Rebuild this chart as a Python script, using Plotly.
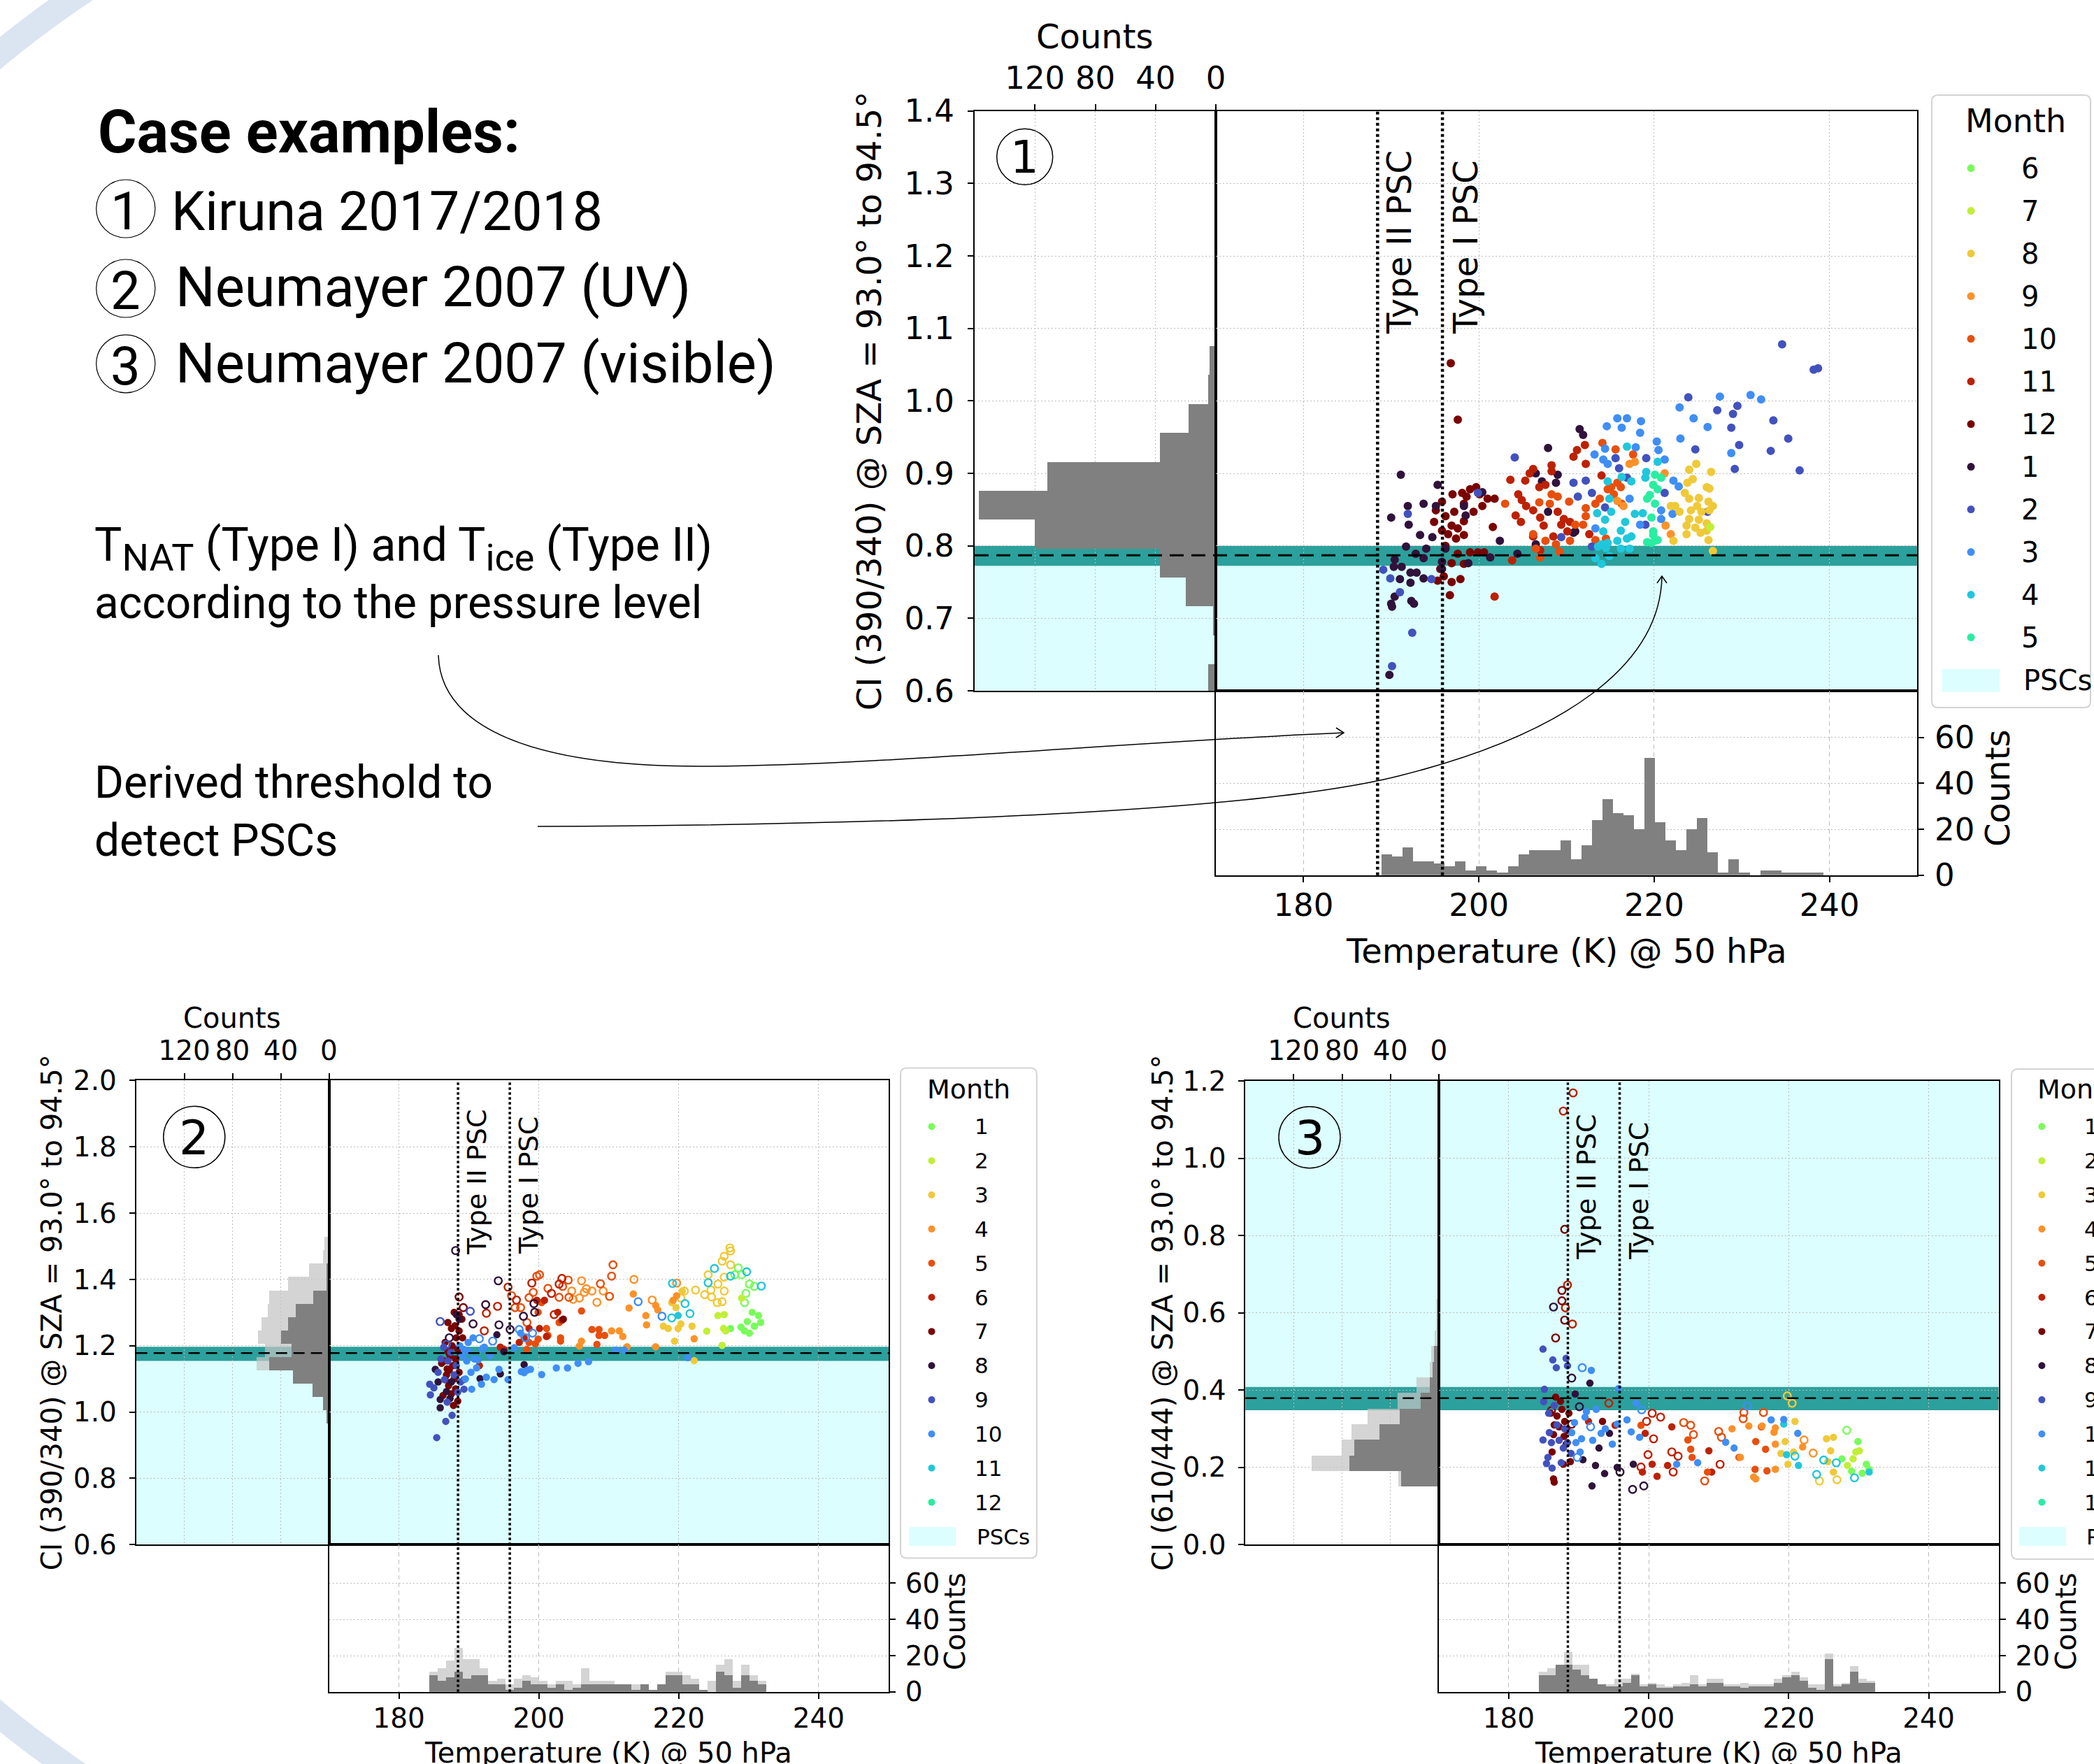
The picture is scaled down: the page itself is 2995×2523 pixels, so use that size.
import numpy as np
import plotly.graph_objects as go
from plotly.colors import sample_colorscale

W, H = 2995, 2523
DV = "DejaVu Sans"
RB = "Roboto"

# ------------------------------------------------------------------ data
MONTH_COLORS = sample_colorscale("Turbo", [i / 11 for i in range(12)])

# thresholds / PSC temperatures
P1_THR, P1_BAND = 0.787, (0.7725, 0.800)
P2_THR, P2_BAND = 1.178, (1.154, 1.197)
P3_THR, P3_BAND = 0.379, (0.348, 0.408)
T_ICE, T_NAT = 188.45, 195.85

# ---- Panel 1: Kiruna 2017/2018 (CI 390/340)
P1_CI_BIN_START, P1_CI_BIN_W = 0.597, 0.0399
P1_CI_COUNTS = [5, 0, 2, 20, 37, 120, 157, 112, 37, 18, 5, 4, 1]
P1_T_BIN_START, P1_T_BIN_W = 188.9, 1.2
P1_T_COUNTS = [9, 8, 12, 6, 6, 5, 4, 6, 2, 4, 2, 1, 4, 9, 11, 11, 11, 15, 7, 13, 24,
               33, 27, 26, 20, 51, 23, 15, 11, 20, 25, 10, 1, 7, 1, 0, 2, 2, 1, 1, 1, 1]

P1_M01 = [(191.1, 0.898), (190.0, 0.839), (195.3, 0.884), (191.9, 0.855), (193.7, 0.858), (192.0, 0.829),
          (193.3, 0.815), (194.7, 0.812), (191.7, 0.799), (194.0, 0.796), (192.8, 0.789), (193.7, 0.783),
          (190.4, 0.781), (190.3, 0.771), (191.2, 0.771), (192.2, 0.763), (192.9, 0.763), (191.0, 0.754),
          (192.2, 0.749), (190.4, 0.730), (190.0, 0.720), (192.6, 0.720), (195.8, 0.778), (196.2, 0.796),
          (195.1, 0.855), (198.3, 0.855), (198.5, 0.842), (200.4, 0.874), (202.4, 0.807), (201.3, 0.784),
          (204.4, 0.789), (207.9, 0.935), (206.5, 0.900), (207.2, 0.889), (209.0, 0.898), (208.8, 0.887),
          (207.9, 0.847), (211.5, 0.961), (211.9, 0.953), (211.0, 0.820), (210.8, 0.818), (206.5, 0.802),
          (198.8, 0.776), (195.8, 0.768), (193.7, 0.755), (189.8, 0.622), (190.1, 0.716), (192.3, 0.724)]
P1_M02 = [(192.4, 0.680), (190.1, 0.634), (191.9, 0.844), (191.0, 0.736), (189.9, 0.755), (189.1, 0.767),
          (194.6, 0.754), (199.9, 0.873), (204.1, 0.922), (210.8, 0.887), (211.3, 0.868), (212.2, 0.890),
          (212.9, 0.873), (209.4, 0.812), (214.4, 0.853), (216.0, 0.907), (215.6, 0.921), (219.1, 0.921),
          (216.9, 0.894), (221.2, 0.873), (219.0, 0.829), (226.1, 0.847), (223.9, 1.005), (227.2, 0.987),
          (229.0, 0.982), (229.5, 0.993), (228.8, 0.963), (224.7, 0.933), (229.7, 0.939), (229.2, 0.906),
          (233.6, 0.973), (233.3, 0.931), (235.3, 0.948), (236.6, 0.904), (234.6, 1.078), (238.2, 1.043),
          (238.7, 1.045), (212.9, 0.799)]
P1_M03 = [(222.9, 0.991), (227.5, 1.006), (231.0, 1.008), (232.2, 1.002), (224.5, 0.976), (226.1, 0.964),
          (223.0, 0.948), (228.8, 0.928), (215.8, 0.976), (216.9, 0.976), (214.6, 0.965), (216.3, 0.963),
          (218.5, 0.972), (218.4, 0.956), (220.3, 0.944), (220.5, 0.932), (221.2, 0.919), (217.9, 0.936),
          (213.2, 0.926), (214.4, 0.934), (214.2, 0.919), (214.7, 0.913), (222.2, 0.890), (222.8, 0.882),
          (220.8, 0.849), (220.8, 0.837), (218.4, 0.829), (213.3, 0.824), (217.2, 0.865), (222.1, 0.844)]
P1_M04 = [(216.9, 0.937), (214.7, 0.889), (214.9, 0.865), (216.3, 0.895), (217.4, 0.889), (213.5, 0.845),
          (215.1, 0.847), (214.4, 0.836), (217.8, 0.844), (216.7, 0.833), (218.7, 0.845), (214.2, 0.820),
          (216.2, 0.821), (217.4, 0.813), (214.7, 0.804), (215.8, 0.807), (216.9, 0.810), (214.0, 0.802),
          (213.6, 0.799), (214.5, 0.797), (216.2, 0.796), (217.2, 0.796), (213.3, 0.783), (214.9, 0.786),
          (214.0, 0.775), (219.1, 0.902), (220.4, 0.916), (219.0, 0.894)]
P1_M05 = [(220.1, 0.898), (219.9, 0.884), (219.5, 0.870), (220.4, 0.878), (219.2, 0.865), (220.1, 0.858),
          (219.7, 0.839), (219.9, 0.820), (220.1, 0.807), (219.7, 0.804), (219.2, 0.805), (220.4, 0.808),
          (219.9, 0.815), (220.8, 0.894)]
P1_M07 = [(226.4, 0.826)]
P1_M08 = [(224.8, 0.913), (224.0, 0.905), (226.5, 0.902), (223.8, 0.887), (224.4, 0.892), (226.0, 0.881),
          (226.3, 0.879), (223.5, 0.873), (224.0, 0.865), (225.1, 0.866), (226.2, 0.861), (226.7, 0.855),
          (224.9, 0.855), (224.2, 0.849), (225.4, 0.847), (226.3, 0.849), (224.0, 0.837), (225.1, 0.836),
          (226.0, 0.831), (223.7, 0.828), (224.7, 0.825), (226.0, 0.821), (223.7, 0.816), (225.3, 0.818),
          (226.2, 0.808), (222.2, 0.807), (222.4, 0.855), (226.7, 0.793), (221.9, 0.855), (222.9, 0.847)]
P1_M09 = [(217.2, 0.913), (217.8, 0.916), (221.2, 0.900), (221.3, 0.828), (221.9, 0.816), (215.8, 0.862),
          (216.5, 0.855)]
P1_M10 = [(214.1, 0.942), (215.6, 0.933), (217.6, 0.926), (215.1, 0.881), (215.8, 0.887), (216.2, 0.881),
          (215.4, 0.871), (214.7, 0.878), (213.3, 0.858), (213.8, 0.865), (212.2, 0.852), (210.3, 0.861),
          (209.0, 0.868), (208.3, 0.871), (208.1, 0.858), (206.9, 0.860), (206.2, 0.816), (206.5, 0.796),
          (207.0, 0.784), (207.6, 0.807), (208.8, 0.802), (209.2, 0.792), (210.4, 0.807), (213.3, 0.808),
          (211.0, 0.829), (211.9, 0.829), (212.2, 0.841), (214.5, 0.810), (203.0, 0.858), (216.3, 0.858)]
P1_M11 = [(203.6, 0.891), (205.3, 0.890), (204.5, 0.871), (204.9, 0.863), (205.4, 0.855), (204.2, 0.842),
          (204.8, 0.833), (206.2, 0.849), (207.0, 0.839), (207.4, 0.828), (206.2, 0.906), (205.8, 0.900),
          (206.9, 0.881), (207.6, 0.884), (208.3, 0.911), (208.3, 0.903), (209.0, 0.847), (209.7, 0.837),
          (210.4, 0.833), (210.1, 0.820), (211.2, 0.932), (212.1, 0.939), (210.8, 0.923), (212.2, 0.913),
          (214.0, 0.897), (209.4, 0.829), (208.5, 0.813), (203.8, 0.780), (207.0, 0.794), (206.2, 0.813),
          (212.6, 0.816), (201.8, 0.730)]
P1_M12 = [(196.8, 1.052), (197.6, 0.974), (195.8, 0.861), (197.0, 0.871), (198.1, 0.873), (199.0, 0.878),
          (199.7, 0.881), (198.3, 0.858), (197.2, 0.847), (196.2, 0.841), (194.9, 0.833), (195.8, 0.821),
          (196.9, 0.828), (198.3, 0.834), (199.4, 0.847), (200.4, 0.855), (201.0, 0.865), (201.8, 0.865),
          (196.5, 0.816), (197.4, 0.810), (198.3, 0.815), (196.2, 0.800), (197.6, 0.789), (199.0, 0.791),
          (196.9, 0.776), (196.0, 0.758), (196.9, 0.750), (196.7, 0.732), (195.3, 0.752), (197.9, 0.754),
          (199.9, 0.791), (200.6, 0.791), (201.6, 0.826), (198.3, 0.775), (195.1, 0.849), (198.6, 0.868),
          (200.1, 0.871), (195.6, 0.768), (197.6, 0.824)]
P1_SERIES = [(12, P1_M12), (1, P1_M01), (11, P1_M11), (10, P1_M10), (2, P1_M02), (9, P1_M09),
             (3, P1_M03), (4, P1_M04), (5, P1_M05), (8, P1_M08), (7, P1_M07)]
P1_LEGEND_MONTHS = [6, 7, 8, 9, 10, 11, 12, 1, 2, 3, 4, 5]

# ---- Panel 2: Neumayer 2007 UV (CI 390/340)
P2_CI_BIN_START, P2_CI_BIN_W = 0.924, 0.0402
P2_CI_ALL = [1, 2, 5, 14, 30, 60, 53, 59, 56, 51, 50, 34, 17, 5, 4]
P2_CI_SUB = [1, 2, 5, 14, 30, 50, 31, 40, 34, 28, 13, 2, 2, 0, 0]
P2_T_BIN_START, P2_T_BIN_W = 184.3, 1.205
P2_T_ALL = [11, 13, 17, 24, 18, 18, 13, 6, 7, 4, 7, 9, 8, 6, 4, 6, 6, 4, 13, 6,
            6, 6, 4, 4, 4, 4, 1, 4, 11, 11, 9, 7, 1, 6, 15, 18, 6, 15, 9, 6]
P2_T_SUB = [9, 6, 8, 11, 7, 9, 9, 4, 4, 1, 2, 6, 4, 4, 2, 4, 1, 2, 4, 4,
            4, 4, 4, 4, 1, 4, 1, 4, 9, 9, 4, 4, 1, 0, 11, 9, 2, 9, 6, 4]

P2_M01_F = [(230.5, 1.301), (231.4, 1.291), (231.7, 1.270), (230.8, 1.259), (229.8, 1.273), (228.9, 1.256),
            (230.1, 1.238), (229.4, 1.245), (227.4, 1.252)]
P2_M01_O = [(228.5, 1.435), (228.0, 1.414), (229.0, 1.414), (230.1, 1.386), (230.8, 1.379), (229.6, 1.358),
            (229.4, 1.330)]
P2_M02_F = [(229.0, 1.344), (225.6, 1.291), (226.5, 1.294), (226.4, 1.252), (226.7, 1.245), (224.0, 1.244),
            (226.2, 1.201)]
P2_M03_F = [(220.3, 1.266), (219.9, 1.252), (221.9, 1.259), (219.4, 1.214), (222.2, 1.155), (218.5, 1.252),
            (217.8, 1.259), (219.6, 1.315), (220.5, 1.365), (219.0, 1.330)]
P2_M03_O = [(227.3, 1.495), (227.4, 1.486), (226.5, 1.470), (226.2, 1.455), (227.4, 1.444), (224.2, 1.414),
            (226.5, 1.407), (225.6, 1.386), (224.6, 1.368), (223.7, 1.354), (222.4, 1.368), (220.8, 1.365),
            (220.3, 1.344), (225.5, 1.330), (226.2, 1.333), (224.7, 1.347), (226.5, 1.365)]
P2_M04_F = [(213.5, 1.356), (212.9, 1.314), (215.3, 1.291), (215.4, 1.263), (216.7, 1.322), (217.0, 1.308),
            (219.2, 1.337), (219.7, 1.351), (222.2, 1.221), (216.7, 1.197), (206.1, 1.214), (205.8, 1.199),
            (210.4, 1.245), (211.5, 1.245), (212.0, 1.228), (212.6, 1.197)]
P2_M04_O = [(206.1, 1.396), (206.8, 1.372), (206.5, 1.361), (207.6, 1.365), (205.8, 1.344), (204.9, 1.340),
            (204.7, 1.365), (209.2, 1.365), (208.3, 1.331), (213.6, 1.400), (216.2, 1.338), (219.7, 1.389)]
P2_M05_F = [(200.4, 1.330), (199.9, 1.301), (202.9, 1.270), (201.1, 1.252), (201.3, 1.231), (199.9, 1.220),
            (199.5, 1.206), (198.6, 1.210), (198.3, 1.189), (206.1, 1.305), (207.6, 1.249), (208.6, 1.249),
            (208.6, 1.231), (209.4, 1.231), (208.3, 1.204), (203.1, 1.224), (203.1, 1.214)]
P2_M05_O = [(210.6, 1.444), (210.4, 1.410), (208.8, 1.387), (210.1, 1.349), (204.3, 1.346), (202.9, 1.346),
            (203.4, 1.379), (204.2, 1.398), (201.3, 1.373), (199.7, 1.410), (200.1, 1.414), (198.6, 1.345),
            (199.2, 1.361), (196.6, 1.315), (197.4, 1.315), (198.3, 1.270), (196.1, 1.351)]
P2_M06_F = [(199.7, 1.337), (200.8, 1.337), (202.7, 1.301), (203.3, 1.277), (201.1, 1.228), (200.1, 1.252),
            (198.6, 1.252), (197.9, 1.224), (197.2, 1.210), (194.5, 1.196), (195.0, 1.189), (191.5, 1.140)]
P2_M06_O = [(195.6, 1.377), (199.0, 1.389), (201.8, 1.358), (202.9, 1.386), (203.3, 1.403), (192.5, 1.298),
            (194.1, 1.319), (192.2, 1.245), (202.2, 1.294), (196.8, 1.338)]
P2_M07_F = [(187.9, 1.301), (188.6, 1.294), (189.0, 1.280), (187.5, 1.252), (188.6, 1.245), (188.2, 1.224),
            (189.1, 1.224), (187.0, 1.182), (186.5, 1.154), (187.2, 1.126), (186.6, 1.098), (187.5, 1.055),
            (188.4, 1.033), (187.7, 1.140), (188.8, 1.175), (186.1, 1.147), (186.8, 1.112), (203.5, 1.280),
            (187.0, 1.270), (188.0, 1.260), (186.6, 1.210), (187.6, 1.200), (188.4, 1.190), (187.3, 1.170),
            (188.1, 1.160), (186.9, 1.130), (187.9, 1.100), (188.6, 1.120), (187.1, 1.080), (188.1, 1.070),
            (186.3, 1.050), (187.8, 1.020)]
P2_M07_O = [(188.6, 1.347), (189.2, 1.315)]
P2_M08_F = [(185.2, 1.129), (185.9, 1.038), (185.9, 1.013), (187.3, 1.041), (191.6, 1.101), (194.5, 1.115),
            (197.9, 1.143), (194.0, 1.233), (195.0, 1.182), (188.2, 1.294), (188.6, 1.280), (187.5, 1.091),
            (185.6, 1.091), (186.8, 1.062)]
P2_M08_O = [(188.1, 1.487), (194.2, 1.396), (192.4, 1.324), (190.6, 1.266), (194.3, 1.263), (197.8, 1.289),
            (199.3, 1.327), (199.4, 1.301), (195.9, 1.249), (187.2, 1.224)]
P2_M09_F = [(185.4, 0.923), (186.7, 0.972), (187.6, 0.990), (184.5, 1.052), (184.4, 1.084), (185.0, 1.073),
            (186.4, 1.196), (188.2, 1.140), (188.8, 1.091), (189.3, 1.098), (187.9, 1.112), (187.0, 1.154),
            (186.5, 1.098), (189.3, 1.069), (186.0, 1.160), (187.4, 1.180), (188.4, 1.060), (185.6, 1.120),
            (186.9, 1.030)]
P2_M09_O = [(185.9, 1.273), (190.2, 1.304), (186.8, 1.204)]
P2_M10_F = [(190.4, 1.069), (191.8, 1.084), (192.5, 1.105), (193.6, 1.098), (194.3, 1.129), (195.6, 1.098),
            (197.5, 1.122), (198.3, 1.126), (198.8, 1.129), (197.9, 1.119), (200.4, 1.113), (202.5, 1.133),
            (204.1, 1.133), (205.6, 1.147), (207.1, 1.152), (211.0, 1.187), (212.2, 1.187), (221.3, 1.164),
            (196.5, 1.194), (191.1, 1.133), (189.7, 1.154), (190.0, 1.182), (191.3, 1.157), (192.2, 1.196),
            (190.6, 1.224), (189.3, 1.189), (197.4, 1.238), (189.0, 1.170), (190.8, 1.160), (189.9, 1.210),
            (191.9, 1.190), (190.3, 1.120), (189.5, 1.100), (193.0, 1.170), (188.7, 1.200)]
P2_M10_O = [(197.2, 1.249), (198.1, 1.224), (199.1, 1.238), (191.5, 1.221), (193.4, 1.214), (214.2, 1.333),
            (217.6, 1.289)]
P2_M11_F = [(219.9, 1.291)]
P2_M11_O = [(219.1, 1.388), (220.9, 1.327), (221.6, 1.297), (219.0, 1.284), (225.1, 1.433), (224.2, 1.390),
            (227.4, 1.410), (229.7, 1.423), (231.8, 1.380)]
P2_SERIES = [(1, P2_M01_F, P2_M01_O), (2, P2_M02_F, []), (3, P2_M03_F, P2_M03_O), (4, P2_M04_F, P2_M04_O),
             (5, P2_M05_F, P2_M05_O), (6, P2_M06_F, P2_M06_O), (11, P2_M11_F, P2_M11_O),
             (7, P2_M07_F, P2_M07_O), (8, P2_M08_F, P2_M08_O), (9, P2_M09_F, P2_M09_O),
             (10, P2_M10_F, P2_M10_O)]

# ---- Panel 3: Neumayer 2007 visible (CI 610/444)
P3_CI_BIN_START, P3_CI_BIN_W = 0.150, 0.0404
P3_CI_ALL = [33, 105, 80, 72, 59, 34, 18, 7, 6, 3, 2, 2, 1, 1, 1, 1, 1]
P3_CI_SUB = [31, 74, 70, 49, 32, 15, 7, 5, 4, 0, 0, 0, 0, 0, 0, 0, 0]
P3_T_BIN_START, P3_T_BIN_W = 184.3, 1.2
P3_T_ALL = [11, 13, 15, 22, 15, 15, 7, 4, 4, 7, 7, 10, 4, 5, 4, 3, 4, 5, 9, 4,
            7, 7, 4, 4, 5, 4, 4, 4, 7, 9, 11, 8, 4, 4, 21, 4, 5, 14, 7, 6]
P3_T_SUB = [9, 9, 15, 15, 12, 9, 7, 4, 3, 3, 5, 9, 3, 4, 2, 2, 3, 3, 4, 3,
            5, 5, 3, 3, 2, 3, 3, 3, 5, 8, 9, 6, 2, 1, 18, 3, 4, 11, 5, 5]

P3_M01_F = [(229.9, 0.267), (231.1, 0.208), (231.5, 0.195), (227.6, 0.222), (230.5, 0.185), (229.0, 0.190)]
P3_M01_O = [(228.3, 0.296)]
P3_M02_F = [(229.6, 0.240), (230.1, 0.243), (229.2, 0.222), (228.4, 0.205)]
P3_M03_F = [(220.9, 0.319), (219.5, 0.267), (218.9, 0.236), (219.9, 0.208), (220.7, 0.240), (225.4, 0.274),
            (226.4, 0.278), (226.0, 0.243), (225.6, 0.215), (226.4, 0.188)]
P3_M03_O = [(219.8, 0.385), (220.5, 0.366), (224.4, 0.165), (226.9, 0.168)]
P3_M04_F = [(211.9, 0.300), (214.3, 0.307), (216.2, 0.307), (217.9, 0.291), (218.1, 0.302), (218.1, 0.260),
            (213.1, 0.226), (222.0, 0.253), (215.3, 0.170), (218.1, 0.195), (215.0, 0.175)]
P3_M04_O = [(222.2, 0.271), (223.5, 0.237)]
P3_M05_F = [(198.9, 0.309), (206.0, 0.247), (205.6, 0.271), (206.2, 0.226), (208.4, 0.188), (212.9, 0.226),
            (215.3, 0.267), (216.7, 0.247), (216.1, 0.305), (215.2, 0.195), (216.9, 0.191)]
P3_M05_O = [(205.0, 0.316), (206.0, 0.309), (206.4, 0.285), (210.0, 0.293), (210.4, 0.278), (213.6, 0.342),
            (213.5, 0.326), (216.4, 0.342), (208.0, 0.165)]
P3_M06_F = [(191.4, 0.319), (195.2, 0.309), (200.5, 0.208), (199.1, 0.188), (201.2, 0.177), (202.7, 0.205),
            (203.3, 0.305), (208.6, 0.243), (209.0, 0.188), (199.5, 0.288)]
P3_M06_O = [(189.2, 1.169), (187.8, 1.122), (188.4, 0.672), (188.1, 0.613), (189.1, 0.571), (194.3, 0.366),
            (200.5, 0.340), (201.7, 0.330), (199.7, 0.319), (200.7, 0.274), (199.9, 0.233), (203.3, 0.240),
            (204.2, 0.229), (210.2, 0.208), (198.9, 0.201), (203.5, 0.188)]
P3_M07_F = [(186.7, 0.382), (187.4, 0.371), (186.9, 0.333), (187.2, 0.305), (188.0, 0.319), (188.4, 0.295),
            (186.4, 0.285), (188.8, 0.215), (186.4, 0.170), (187.8, 0.208), (193.4, 0.319), (186.5, 0.162),
            (186.0, 0.340), (187.6, 0.350), (186.5, 0.310), (187.9, 0.280), (188.6, 0.340), (186.2, 0.240),
            (188.2, 0.260)]
P3_M07_O = [(188.0, 0.816), (187.6, 0.658), (187.6, 0.631), (188.0, 0.581), (186.7, 0.535), (186.1, 0.347),
            (189.0, 0.312)]
P3_M08_F = [(191.6, 0.418), (194.4, 0.288), (192.4, 0.205), (193.7, 0.184), (197.8, 0.208), (191.9, 0.152),
            (189.5, 0.390), (190.6, 0.220), (192.9, 0.250), (195.5, 0.200)]
P3_M08_O = [(186.4, 0.615), (189.0, 0.431), (190.1, 0.357), (195.9, 0.188), (197.7, 0.143), (199.3, 0.152)]
P3_M09_F = [(184.9, 0.506), (186.3, 0.478), (186.8, 0.458), (188.2, 0.482), (188.4, 0.463), (185.1, 0.402),
            (185.7, 0.340), (184.9, 0.271), (186.1, 0.264), (187.8, 0.250), (188.4, 0.264), (185.6, 0.226),
            (186.2, 0.198), (187.5, 0.212), (188.9, 0.236), (186.9, 0.310), (185.0, 0.370), (185.8, 0.290),
            (187.2, 0.270), (186.5, 0.360), (188.0, 0.300), (185.4, 0.210)]
P3_M10_F = [(191.8, 0.451), (195.7, 0.404), (198.2, 0.366), (192.5, 0.350), (191.1, 0.344), (196.9, 0.323),
            (195.5, 0.312), (217.5, 0.323), (219.3, 0.324), (221.3, 0.288), (211.0, 0.265), (212.2, 0.250),
            (207.0, 0.212), (204.0, 0.208), (189.4, 0.316), (190.4, 0.274), (189.6, 0.264), (198.7, 0.278),
            (197.5, 0.292), (193.2, 0.288), (189.0, 0.290), (190.9, 0.330), (192.0, 0.270), (193.8, 0.300),
            (190.2, 0.240), (194.8, 0.260)]
P3_M10_O = [(190.5, 0.458), (214.1, 0.359), (199.0, 0.349), (191.7, 0.305), (189.8, 0.226)]
P3_M11_F = [(219.3, 0.312), (219.7, 0.233), (221.4, 0.205), (231.5, 0.188)]
P3_M11_O = [(220.9, 0.229), (225.0, 0.219), (226.8, 0.212), (224.0, 0.182), (229.4, 0.173)]
P3_SERIES = [(6, P3_M06_F, P3_M06_O), (5, P3_M05_F, P3_M05_O), (4, P3_M04_F, P3_M04_O),
             (3, P3_M03_F, P3_M03_O), (2, P3_M02_F, []), (1, P3_M01_F, P3_M01_O), (11, P3_M11_F, P3_M11_O),
             (7, P3_M07_F, P3_M07_O), (8, P3_M08_F, P3_M08_O), (9, P3_M09_F, []), (10, P3_M10_F, P3_M10_O)]
NEUMAYER_LEGEND_MONTHS = list(range(1, 13))

CASE_LINES = ["Kiruna 2017/2018", "Neumayer 2007 (UV)", "Neumayer 2007 (visible)"]
Y_TITLE_UV = "CI (390/340) @ SZA = 93.0° to 94.5°"
Y_TITLE_VIS = "CI (610/444) @ SZA = 93.0° to 94.5°"
X_TITLE = "Temperature (K) @ 50 hPa"

# ------------------------------------------------------------------ helpers
def X(p):
    return p / W


def Y(p):
    return 1 - p / H


def P(x, y):
    return f"{X(x):.6f},{Y(y):.6f}"


LIGHTCYAN = "#dcfefe"
TEAL = "#2ca09c"
DARKGRAY = "#808080"
LIGHTGRAY = "rgba(196,196,196,0.72)"
GRID = "#bdbdbd"

fig = go.Figure()
shapes = []
annotations = []


def ann(text, x, y, size, family=DV, xanchor="center", yanchor="middle", angle=0, color="black"):
    annotations.append(dict(text=text, x=X(x), y=Y(y), xref="paper", yref="paper", showarrow=False,
                            xanchor=xanchor, yanchor=yanchor, textangle=angle,
                            font=dict(family=family, size=size, color=color)))


def centers(start, w, n):
    return [start + w * (i + 0.5) for i in range(n)]


# panel geometry (pixels)
PANELS = [
    dict(k=0, hl=1394, mid=1739, right=2742, top=158.7, bot=988.0, hbot=1251.7,
         ci=[0.6, 1.4], civals=[round(0.6 + 0.1 * i, 1) for i in range(9)], hmax=80.3,
         tfont=45, lw=2, psc="below", band=P1_BAND, thr=P1_THR),
    dict(k=1, hl=194.7, mid=470.5, right=1271.0, top=1545.4, bot=2209.3, hbot=2419.8,
         ci=[0.6, 2.0], civals=[round(0.6 + 0.2 * i, 1) for i in range(8)], hmax=81.3,
         tfont=39, lw=2, psc="below", band=P2_BAND, thr=P2_THR),
    dict(k=2, hl=1781.3, mid=2057.8, right=2858.6, top=1546.0, bot=2209.3, hbot=2419.8,
         ci=[0.0, 1.2], civals=[round(0.2 * i, 1) for i in range(7)], hmax=81.3,
         tfont=39, lw=2, psc="above", band=P3_BAND, thr=P3_THR),
]

layout_axes = {}
for g in PANELS:
    a, b, c = 3 * g["k"] + 1, 3 * g["k"] + 2, 3 * g["k"] + 3
    nm = lambda i: "" if i == 1 else str(i)
    base = dict(showline=True, linecolor="black", linewidth=g["lw"], mirror=True, zeroline=False,
                showgrid=True, gridcolor=GRID, gridwidth=1.3, griddash="2px,3px",
                tickfont=dict(family=DV, size=g["tfont"], color="black"),
                tickcolor="black", tickwidth=2, ticklen=8)
    layout_axes["xaxis" + nm(a)] = dict(base, domain=[X(g["hl"]), X(g["mid"])], range=[160, 0], side="top",
                                        tickvals=[0, 40, 80, 120], ticks="outside", anchor="y" + nm(a),
                                        ticklabelstandoff=4)
    layout_axes["yaxis" + nm(a)] = dict(base, domain=[Y(g["bot"]), Y(g["top"])], range=g["ci"],
                                        tickvals=g["civals"], tickformat=".1f", ticks="outside",
                                        anchor="x" + nm(a), ticklabelstandoff=10)
    layout_axes["xaxis" + nm(b)] = dict(base, domain=[X(g["mid"]), X(g["right"])], range=[170, 250],
                                        tickvals=[180, 200, 220, 240], showticklabels=False, ticks="",
                                        anchor="y" + nm(b))
    layout_axes["yaxis" + nm(b)] = dict(base, domain=[Y(g["bot"]), Y(g["top"])], range=g["ci"],
                                        tickvals=g["civals"], showticklabels=False, ticks="",
                                        anchor="x" + nm(b))
    layout_axes["xaxis" + nm(c)] = dict(base, domain=[X(g["mid"]), X(g["right"])], range=[170, 250],
                                        tickvals=[180, 200, 220, 240], ticks="outside", griddash="6px,5px",
                                        anchor="y" + nm(c), ticklabelstandoff=-6)
    layout_axes["yaxis" + nm(c)] = dict(base, domain=[Y(g["hbot"]), Y(g["bot"])], range=[0, g["hmax"]],
                                        tickvals=[0, 20, 40, 60], side="right", ticks="outside",
                                        anchor="x" + nm(c), ticklabelstandoff=6)
    g["ax"] = ("x" + nm(a), "y" + nm(a), "x" + nm(b), "y" + nm(b), "x" + nm(c), "y" + nm(c))

    # PSC shading, threshold band and threshold line
    ya = "y" + nm(a)
    lo, hi = g["band"]
    if g["psc"] == "below":
        shapes.append(dict(type="rect", xref="paper", yref=ya, x0=X(g["hl"]), x1=X(g["right"]),
                           y0=g["ci"][0], y1=lo, fillcolor=LIGHTCYAN, line_width=0, layer="below"))
    else:
        shapes.append(dict(type="rect", xref="paper", yref=ya, x0=X(g["hl"]), x1=X(g["right"]),
                           y0=hi, y1=g["ci"][1], fillcolor=LIGHTCYAN, line_width=0, layer="below"))
    shapes.append(dict(type="rect", xref="paper", yref=ya, x0=X(g["hl"]), x1=X(g["right"]),
                       y0=lo, y1=hi, fillcolor=TEAL, line_width=0, layer="below"))
    shapes.append(dict(type="line", xref="paper", yref=ya, x0=X(g["hl"]), x1=X(g["right"]),
                       y0=g["thr"], y1=g["thr"], line=dict(color="black", width=3 if g["k"] == 0 else 2.5,
                                                           dash="20px,11px" if g["k"] == 0 else "16px,9px"),
                       layer="above"))
    # PSC formation temperatures
    for t in (T_ICE, T_NAT):
        shapes.append(dict(type="line", xref="x" + nm(b), yref="paper", x0=t, x1=t,
                           y0=Y(g["hbot"]), y1=Y(g["top"]),
                           line=dict(color="black", width=4.5 if g["k"] == 0 else 3.5,
                                     dash="4px,4px" if g["k"] == 0 else "3.5px,3.5px"),
                           layer="above"))

# ------------------------------------------------------------------ traces
def add_scatter(pts, month_idx, g, size, open_=False):
    if not pts:
        return
    xa, ya = g["ax"][2], g["ax"][3]
    col = MONTH_COLORS[month_idx]
    if open_:
        marker = dict(symbol="circle-open", size=size, color=col, line=dict(color=col, width=2.4))
    else:
        marker = dict(symbol="circle", size=size, color=col, line=dict(width=0))
    fig.add_trace(go.Scatter(x=[p[0] for p in pts], y=[p[1] for p in pts], mode="markers",
                             marker=marker, xaxis=xa, yaxis=ya, showlegend=False, hoverinfo="skip"))


def add_hists(g, ci_start, ci_w, ci_counts, t_start, t_w, t_counts, color):
    fig.add_trace(go.Bar(orientation="h", y=centers(ci_start, ci_w, len(ci_counts)), x=ci_counts,
                         width=ci_w, marker=dict(color=color, line=dict(width=0)),
                         xaxis=g["ax"][0], yaxis=g["ax"][1], showlegend=False, hoverinfo="skip"))
    fig.add_trace(go.Bar(x=centers(t_start, t_w, len(t_counts)), y=t_counts, width=t_w,
                         marker=dict(color=color, line=dict(width=0)),
                         xaxis=g["ax"][4], yaxis=g["ax"][5], showlegend=False, hoverinfo="skip"))


g1, g2, g3 = PANELS
add_hists(g1, P1_CI_BIN_START, P1_CI_BIN_W, P1_CI_COUNTS, P1_T_BIN_START, P1_T_BIN_W, P1_T_COUNTS, DARKGRAY)
add_hists(g2, P2_CI_BIN_START, P2_CI_BIN_W, P2_CI_ALL, P2_T_BIN_START, P2_T_BIN_W, P2_T_ALL, LIGHTGRAY)
add_hists(g2, P2_CI_BIN_START, P2_CI_BIN_W, P2_CI_SUB, P2_T_BIN_START, P2_T_BIN_W, P2_T_SUB, DARKGRAY)
add_hists(g3, P3_CI_BIN_START, P3_CI_BIN_W, P3_CI_ALL, P3_T_BIN_START, P3_T_BIN_W, P3_T_ALL, LIGHTGRAY)
add_hists(g3, P3_CI_BIN_START, P3_CI_BIN_W, P3_CI_SUB, P3_T_BIN_START, P3_T_BIN_W, P3_T_SUB, DARKGRAY)

for m, pts in P1_SERIES:
    add_scatter(pts, (m - 1) % 12, g1, 12)
for m, f, o in P2_SERIES:
    add_scatter(o, (m - 8) % 12, g2, 10.5, open_=True)
    add_scatter(f, (m - 8) % 12, g2, 10.5)
for m, f, o in P3_SERIES:
    add_scatter(o, (m - 8) % 12, g3, 10.5, open_=True)
    add_scatter(f, (m - 8) % 12, g3, 10.5)

# ------------------------------------------------------------------ panel texts
TXT = [
    dict(g=g1, yt=Y_TITLE_UV, ytx=1243, hdr=(1566, 52), xt=(2240, 1360), rc=(2857, 1127), fs=48,
         types=((2001, 347), (2096, 354)), tfs=48, circ=(1465.7, 224.3, 40), cfs=64, num="1"),
    dict(g=g2, yt=Y_TITLE_UV, ytx=74, hdr=(332, 1456), xt=(870, 2507), rc=(1366, 2319), fs=40,
         types=((682, 1691), (756, 1696)), tfs=38, circ=(277.8, 1626.3, 44), cfs=68, num="2"),
    dict(g=g3, yt=Y_TITLE_VIS, ytx=1663, hdr=(1919, 1456), xt=(2458, 2507), rc=(2955, 2319), fs=40,
         types=((2269, 1698), (2344, 1704)), tfs=38, circ=(1873.0, 1626.7, 44), cfs=68, num="3"),
]
for t in TXT:
    g = t["g"]
    ann(t["yt"], t["ytx"], (g["top"] + g["bot"]) / 2, t["fs"], angle=-90)
    ann("Counts", t["hdr"][0], t["hdr"][1], t["fs"])
    ann(X_TITLE, t["xt"][0], t["xt"][1], t["fs"])
    ann("Counts", t["rc"][0], t["rc"][1], t["fs"], angle=-90)
    ann("Type II PSC", t["types"][0][0], t["types"][0][1], t["tfs"], angle=-90)
    ann("Type I PSC", t["types"][1][0], t["types"][1][1], t["tfs"], angle=-90)
    cx, cy, r = t["circ"]
    shapes.append(dict(type="circle", xref="paper", yref="paper", x0=X(cx - r), x1=X(cx + r),
                       y0=Y(cy + r), y1=Y(cy - r), line=dict(color="black", width=1.5), layer="above"))
    ann(t["num"], cx, cy + 1, t["cfs"])


# ------------------------------------------------------------------ legends (drawn)
def rrect(x0, y0, x1, y1, r):
    return (f"M {P(x0 + r, y0)} L {P(x1 - r, y0)} Q {P(x1, y0)} {P(x1, y0 + r)} "
            f"L {P(x1, y1 - r)} Q {P(x1, y1)} {P(x1 - r, y1)} L {P(x0 + r, y1)} "
            f"Q {P(x0, y1)} {P(x0, y1 - r)} L {P(x0, y0 + r)} Q {P(x0, y0)} {P(x0 + r, y0)} Z")


LEGENDS = [
    dict(box=(2763, 136, 2990, 1012), title=(2883, 173, 46), y0=240.6, dy=61.0, mx=2819, tx=2889,
         fs=40, mr=5.5, months=P1_LEGEND_MONTHS, offset=1, patch=(2777.6, 957, 2860, 989.4)),
    dict(box=(1288, 1527.5, 1482.8, 2228.6), title=(1385, 1557.6, 38), y0=1611.3, dy=48.85, mx=1332.5,
         tx=1392, fs=31, mr=5, months=NEUMAYER_LEGEND_MONTHS, offset=8, patch=(1300, 2184, 1367, 2211)),
    dict(box=(2877, 1529, 3075, 2230), title=(2973, 1557.6, 38), y0=1611.3, dy=48.85, mx=2920.4,
         tx=2978.5, fs=31, mr=5, months=NEUMAYER_LEGEND_MONTHS, offset=8, patch=(2888, 2184, 2955, 2211)),
]
for L in LEGENDS:
    x0, y0, x1, y1 = L["box"]
    shapes.append(dict(type="path", xref="paper", yref="paper", path=rrect(x0, y0, x1, y1, 9),
                       fillcolor="rgba(255,255,255,0.85)", line=dict(color="#d3d3d3", width=2), layer="above"))
    ann("Month", L["title"][0], L["title"][1], L["title"][2])
    for i, m in enumerate(L["months"]):
        cy = L["y0"] + i * L["dy"]
        col = MONTH_COLORS[(m - L["offset"]) % 12]
        shapes.append(dict(type="circle", xref="paper", yref="paper", x0=X(L["mx"] - L["mr"]),
                           x1=X(L["mx"] + L["mr"]), y0=Y(cy + L["mr"]), y1=Y(cy - L["mr"]),
                           fillcolor=col, line_width=0, layer="above"))
        ann(str(m), L["tx"], cy, L["fs"], xanchor="left")
    px0, py0, px1, py1 = L["patch"]
    shapes.append(dict(type="rect", xref="paper", yref="paper", x0=X(px0), x1=X(px1), y0=Y(py1), y1=Y(py0),
                       fillcolor=LIGHTCYAN, line_width=0, layer="above"))
    ann("PSCs", L["tx"] + 3, (py0 + py1) / 2, L["fs"], xanchor="left")

# ------------------------------------------------------------------ left-hand text block
def rb(text, x, baseline, size, bold=False):
    t = f"<b>{text}</b>" if bold else text
    annotations.append(dict(text=t, x=X(x), y=Y(baseline - 0.93 * size), xref="paper", yref="paper",
                            showarrow=False, xanchor="left", yanchor="top",
                            font=dict(family=RB, size=size, color="black")))


rb("Case examples:", 137.7, 216.0, 85, bold=True)
CIRC_Y = [298.5, 412.5, 520.3]
TEXT_X = [243.3, 248.7, 248.7]
BASE = [327.5, 436.0, 545.0]
CASE_SIZE = [77, 79.5, 79.5]
for i, line in enumerate(CASE_LINES):
    shapes.append(dict(type="circle", xref="paper", yref="paper", x0=X(137.7), x1=X(221.9),
                       y0=Y(CIRC_Y[i] + 41.5), y1=Y(CIRC_Y[i] - 41.5), line=dict(color="black", width=1.2)))
    annotations.append(dict(text=str(i + 1), x=X(179.8), y=Y(CIRC_Y[i] + 27 - 0.93 * 76), xref="paper",
                            yref="paper", showarrow=False, xanchor="center", yanchor="top",
                            font=dict(family=RB, size=76, color="black")))
    rb(line, TEXT_X[i], BASE[i], CASE_SIZE[i])

SUB = '<sub><span style="font-size:54px">{}</span></sub>'
rb("T" + SUB.format("NAT") + " (Type I) and T" + SUB.format("ice") + " (Type II)", 133, 800, 66)
rb("according to the pressure level", 133, 883, 64)
rb("Derived threshold to", 133, 1140, 64)
rb("detect PSCs", 133, 1223, 64)

# connector arrows
ARROW = dict(color="black", width=1.5)
shapes.append(dict(type="path", xref="paper", yref="paper", line=ARROW, layer="above",
                   path=f"M {P(627, 937)} C {P(630, 1040)} {P(760, 1096)} {P(1000, 1096)} "
                        f"C {P(1240, 1096)} {P(1600, 1062)} {P(1922, 1048)}"))
shapes.append(dict(type="path", xref="paper", yref="paper", line=ARROW, layer="above",
                   path=f"M {P(1911, 1041)} L {P(1922, 1048)} L {P(1911, 1055)}"))
shapes.append(dict(type="path", xref="paper", yref="paper", line=ARROW, layer="above",
                   path=f"M {P(769, 1182)} C {P(1300, 1180)} {P(1800, 1160)} {P(2000, 1110)} "
                        f"C {P(2240, 1050)} {P(2375, 950)} {P(2377, 824)}"))
shapes.append(dict(type="path", xref="paper", yref="paper", line=ARROW, layer="above",
                   path=f"M {P(2370, 834)} L {P(2377, 824)} L {P(2384, 834)}"))

# decorative ring segments (background)
RING_C, R_IN, R_OUT = (974.0, 1265.0), 1519.0, 1555.0
for a0, a1 in ((-138, -116), (116, 140)):
    ang = np.radians(np.linspace(a0, a1, 60))
    outer = [(RING_C[0] + R_OUT * np.cos(t), RING_C[1] + R_OUT * np.sin(t)) for t in ang]
    inner = [(RING_C[0] + R_IN * np.cos(t), RING_C[1] + R_IN * np.sin(t)) for t in ang[::-1]]
    pts = outer + inner
    path = "M " + " L ".join(P(x, y) for x, y in pts) + " Z"
    shapes.append(dict(type="path", xref="paper", yref="paper", path=path, fillcolor="#dbe5f1",
                       line_width=0, layer="below"))

fig.update_layout(
    width=W, height=H, margin=dict(l=0, r=0, t=0, b=0, pad=0, autoexpand=False),
    paper_bgcolor="white", plot_bgcolor="rgba(0,0,0,0)",
    barmode="overlay", bargap=0, showlegend=False,
    shapes=shapes, annotations=annotations, **layout_axes,
)

fig.write_html("out.html")
